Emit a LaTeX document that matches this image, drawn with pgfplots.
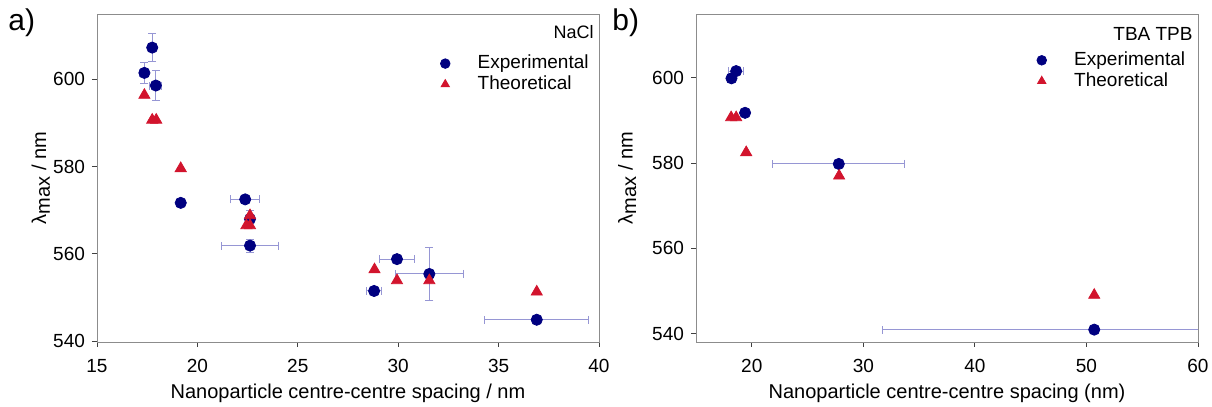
\documentclass[border=0pt]{standalone}
\usepackage{fontspec}
\setmainfont{Liberation Sans}
\usepackage{pgfplots}
\pgfplotsset{compat=1.18}
\usepackage{pgfplotstable}

\definecolor{expblue}{RGB}{0,0,128}
\definecolor{thred}{RGB}{210,20,45}
\definecolor{errblue}{RGB}{150,150,212}

% NaCl: experimental peak positions with errors
\pgfplotstableread{
x     y     ex    ey
17.75 607.3 0.00  3.2
17.36 601.5 0.22  2.4
17.93 598.6 0.30  3.4
19.17 571.7 0.00  0.0
22.38 572.5 0.71  0.4
22.62 568.0 0.00  2.0
22.62 561.9 1.40  1.5
28.80 551.5 0.39  0.3
29.94 558.8 0.87  0.3
31.55 555.4 1.70  6.0
36.90 544.9 2.60  0.3
}\naclexp

% NaCl: calculated peak positions
\pgfplotstableread{
x     y
17.36 596.4
17.75 590.7
17.95 590.7
19.17 579.6
22.62 568.8
22.44 566.5
22.62 566.5
28.82 556.4
29.94 553.9
31.55 553.9
36.90 551.3
}\naclth

% TBA TPB: experimental peak positions with errors
\pgfplotstableread{
x     y     ex    ey
18.18 599.9 0.00  1.0
18.60 601.6 0.66  0.4
19.40 591.8 0.20  0.3
27.80 579.8 5.90  0.3
50.70 540.9 19.00 0.3
}\tbaexp

% TBA TPB: calculated peak positions
\pgfplotstableread{
x     y
18.15 590.7
18.60 590.7
19.50 582.5
27.83 577.0
50.70 549.0
}\tbath

\pgfplotsset{
  panel/.style={
    scale only axis, width=251pt, height=164pt,
    clip mode=individual,
    axis line style={draw=gray!90},
    tick align=outside, xtick pos=left, ytick pos=left,
    major tick length=2.5pt,
    tick style={color=black!75, line width=0.4pt},
    ticklabel style={font=\fontsize{9.5}{11}\selectfont},
    xticklabel style={yshift=-2.5pt},
    /pgf/number format/assume math mode=true,
    ytick={540,560,580,600},
    label style={font=\fontsize{9.5}{11}\selectfont},
    legend cell align=left,
    legend style={draw=none, fill=none, font=\fontsize{9.5}{11}\selectfont,
      anchor=north east, row sep=-2pt},
    legend image code/.code={
      \path[draw=none, fill=none] (0cm,0cm) -- (0.55cm,0cm);
      \draw[##1, mark size=2.4pt] plot coordinates {(0.05cm,0cm)};},
  },
  expstyle/.style={only marks, mark=*, mark size=2.8pt,
    mark options={draw=expblue, fill=expblue},
    error bars/.cd, x dir=both, x explicit, y dir=both, y explicit,
    error bar style={draw=errblue, line width=0.5pt},
    error mark options={draw=errblue, rotate=90, mark size=2pt, line width=0.5pt}},
  thstyle/.style={only marks, mark=triangle*, mark size=3.2pt,
    mark options={draw=thred, fill=thred}},
}

\begin{document}
\begin{tikzpicture}
\path[use as bounding box] (-48.5pt,-32.5pt) rectangle (557.5pt,171pt);

\begin{axis}[panel, at={(0pt,0pt)}, anchor=south west,
  xmin=15, xmax=40, ymin=539.8, ymax=615,
  xtick={15,20,...,40},
  xlabel={Nanoparticle centre-centre spacing / nm},
  ylabel={λ\raisebox{-0.35ex}{max} / nm},
  every axis x label/.style={at={(axis description cs:0.5,-0.158)}, anchor=center},
  every axis y label/.style={at={(axis description cs:-0.112,0.5)}, rotate=90, anchor=center},
  legend style={at={(axis description cs:1.0,0.900)}},
]
\addplot+[expstyle] table[x=x, y=y, x error=ex, y error=ey] {\naclexp};
\addlegendentry{Experimental}
\addplot+[thstyle] table[x=x, y=y] {\naclth};
\addlegendentry{Theoretical}
\node[anchor=north east, font=\fontsize{9}{11}\selectfont, inner sep=0pt]
  at (rel axis cs:0.99,0.965) {NaCl};
\node[anchor=center, font=\fontsize{15}{17}\selectfont, inner sep=0pt]
  at (axis description cs:-0.150,0.973) {a)};
\end{axis}

\begin{axis}[panel, at={(299.5pt,0pt)}, anchor=south west,
  xmin=15, xmax=60, ymin=538, ymax=615,
  xtick={20,30,...,60},
  xlabel={Nanoparticle centre-centre spacing (nm)},
  ylabel={λ\raisebox{-0.35ex}{max} / nm},
  every axis x label/.style={at={(axis description cs:0.5,-0.158)}, anchor=center},
  every axis y label/.style={at={(axis description cs:-0.137,0.5)}, rotate=90, anchor=center},
  legend style={at={(axis description cs:0.995,0.910)}},
]
\addplot+[expstyle] table[x=x, y=y, x error=ex, y error=ey] {\tbaexp};
\addlegendentry{Experimental}
\addplot+[thstyle] table[x=x, y=y] {\tbath};
\addlegendentry{Theoretical}
\node[anchor=north east, font=\fontsize{9.5}{11}\selectfont, inner sep=0pt]
  at (rel axis cs:0.99,0.96) {TBA TPB};
\node[anchor=center, font=\fontsize{15}{17}\selectfont, inner sep=0pt]
  at (axis description cs:-0.14,0.973) {b)};
\end{axis}
\end{tikzpicture}
\end{document}
